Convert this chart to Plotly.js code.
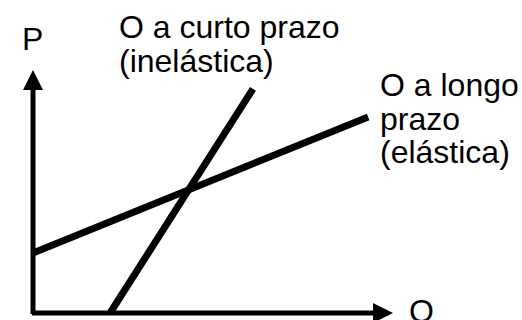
<!DOCTYPE html>
<html>
<head>
<meta charset="utf-8">
<script src="https://cdn.plot.ly/plotly-3.0.1.min.js"></script>
<style>html,body{margin:0;padding:0;background:#fff;}#chart{width:522px;height:320px;}</style>
</head>
<body>
<div id="chart"></div>
<script>
// Conceptual supply curves (Q = quantity, P = price)
const curtoQ = [2.14, 6.11];   // O a curto prazo (inelástica)
const curtoP = [0, 9.22];
const longoQ = [0, 9.31];      // O a longo prazo (elástica)
const longoP = [2.47, 8.07];
const axisQmax = 10;
const axisPmax = 10;
const labelCurto = ["O a curto prazo", "(inelástica)"];
const labelLongo = ["O a longo", "prazo", "(elástica)"];
const axisLabelP = "P";
const axisLabelQ = "Q";

// pixel frame of the picture
const W = 522, H = 320, X0 = 33, Y0 = 313, SX = 36, SY = 24.3;
const qx = px => (px - X0) / SX;
const py = pyPix => (Y0 - pyPix) / SY;

const font = {family: "Liberation Sans, Arial, sans-serif", size: 32, color: "#000"};

const traces = [
  {x: longoQ, y: longoP, mode: "lines", line: {color: "#000", width: 7}, hoverinfo: "skip"},
  {x: curtoQ, y: curtoP, mode: "lines", line: {color: "#000", width: 7}, hoverinfo: "skip"}
];

const ann = [];
// axes with arrow heads
ann.push({x: axisQmax, y: 0, ax: qx(30.5), ay: 0, xref: "x", yref: "y", axref: "x", ayref: "y",
  showarrow: true, arrowhead: 2, arrowwidth: 5, arrowsize: 0.8, arrowcolor: "#000", text: ""});
ann.push({x: 0, y: axisPmax, ax: 0, ay: py(315.5), xref: "x", yref: "y", axref: "x", ayref: "y",
  showarrow: true, arrowhead: 2, arrowwidth: 5, arrowsize: 0.8, arrowcolor: "#000", text: ""});

function textAnn(t, xPix, yPix, xanchor) {
  ann.push({x: qx(xPix), y: py(yPix), xref: "x", yref: "y", text: t, showarrow: false,
    xanchor: xanchor, yanchor: "middle", font: font});
}
textAnn(axisLabelP, 32.5, 38.5, "center");
textAnn(axisLabelQ, 421, 311, "center");
const lineGap = 33.5;
labelCurto.forEach((t, i) => textAnn(t, 116.5, 27.3 + i * lineGap, "left"));
labelLongo.forEach((t, i) => textAnn(t, 377.5, 85.3 + i * lineGap, "left"));

const layout = {
  width: W, height: H,
  margin: {l: 0, r: 0, t: 0, b: 0, pad: 0},
  paper_bgcolor: "#fff", plot_bgcolor: "#fff",
  showlegend: false,
  xaxis: {range: [qx(0), qx(W)], visible: false, fixedrange: true},
  yaxis: {range: [py(H), py(0)], visible: false, fixedrange: true},
  annotations: ann
};

Plotly.newPlot("chart", traces, layout, {displayModeBar: false, staticPlot: true});
</script>
</body>
</html>
